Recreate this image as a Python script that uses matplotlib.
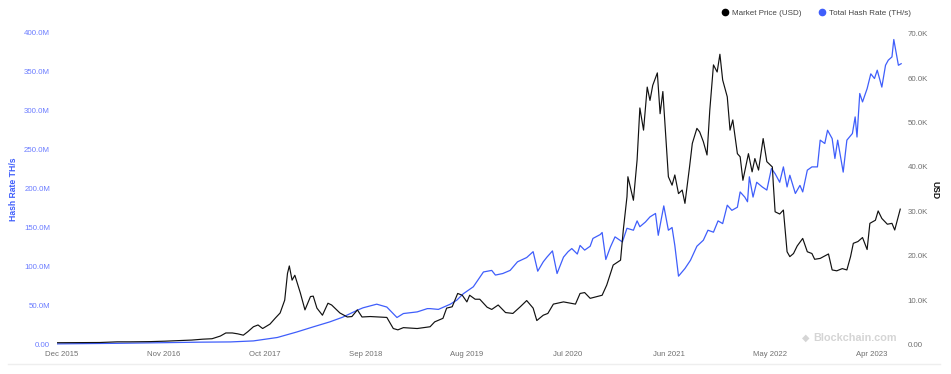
import matplotlib
matplotlib.use('Agg')
import matplotlib.pyplot as plt
from matplotlib.lines import Line2D

# x positions are months after Dec 2015
price_t = [-0.5, 1.4, 4.1, 6.0, 7.4, 9.6, 11.2, 12.8, 14.1, 15.3, 16.3, 17.2, 17.8, 18.5, 19.1, 19.7,
           20.2, 20.8, 21.3, 21.8, 22.6, 23.2, 23.7, 24.2, 24.5, 24.7, 25.0, 25.3, 25.9, 26.4, 27.0,
           27.3, 27.7, 28.3, 28.9, 29.3, 30.2, 31.0, 31.5, 32.1, 32.6, 33.5, 35.3, 36.0, 36.5, 37.1,
           38.6, 40.0, 40.5, 41.4, 41.8, 42.4, 42.7, 43.0, 43.5, 44.0, 44.3, 44.9, 45.4, 46.2, 46.7,
           47.4, 48.2, 49.0, 49.8, 50.5, 51.2, 51.6, 52.3, 52.8, 53.4, 54.5, 55.8, 56.3, 56.8, 57.4,
           58.7, 59.2, 59.9, 60.7, 61.0, 61.4, 61.5, 62.1, 62.5, 62.8, 63.2, 63.6, 63.9, 64.2, 64.7,
           65.0, 65.3, 65.9, 66.3, 66.6, 67.0, 67.4, 67.7, 68.2, 68.5, 69.0, 69.3, 69.7, 70.1, 70.4,
           70.8, 71.2, 71.5, 71.8, 72.3, 72.6, 72.9, 73.4, 73.7, 74.0, 74.6, 75.0, 75.3, 75.7, 76.2,
           76.6, 77.2, 77.3, 77.5, 78.0, 78.4, 78.8, 79.1, 79.5, 79.9, 80.5, 81.0, 81.5, 81.8, 82.4,
           83.3, 83.7, 84.2, 84.8, 85.3, 85.7, 86.0, 86.5, 87.0, 87.5, 87.8, 88.4, 88.7, 89.1, 89.7,
           90.2, 90.5, 91.1]
price_k = [0.40, 0.42, 0.45, 0.6, 0.6, 0.65, 0.75, 0.9, 1.0, 1.2, 1.3, 1.9, 2.6, 2.6, 2.4, 2.1,
           2.9, 4.0, 4.4, 3.6, 4.6, 6.0, 7.1, 10.0, 16.0, 17.7, 14.5, 15.6, 11.6, 7.8, 10.8,
           10.9, 8.2, 6.6, 9.3, 8.9, 7.1, 6.2, 6.3, 7.8, 6.2, 6.3, 6.1, 3.6, 3.3, 3.8,
           3.6, 4.0, 5.1, 5.9, 8.2, 8.5, 10.0, 11.5, 11.1, 9.6, 11.1, 10.2, 10.2, 8.4, 7.9,
           8.9, 7.2, 7.0, 8.5, 9.9, 8.2, 5.4, 6.6, 7.0, 9.1, 9.6, 9.1, 11.5, 11.7, 10.4,
           11.1, 13.4, 17.9, 19.0, 25.8, 33.3, 37.8, 32.5, 41.6, 53.3, 48.3, 58.0, 55.0, 58.4, 61.2,
           52.0, 57.0, 37.8, 35.9, 38.2, 34.0, 34.8, 31.8, 40.0, 45.3, 48.7, 47.9, 45.7, 42.7, 52.8,
           63.0, 61.4, 65.4, 59.6, 55.8, 48.3, 50.6, 43.0, 42.3, 37.0, 43.0, 38.9, 41.9, 39.3, 46.4,
           41.2, 40.0, 36.3, 29.9, 29.4, 30.3, 20.9, 19.8, 20.5, 22.2, 23.9, 20.9, 20.5, 19.2, 19.4,
           20.4, 16.8, 16.6, 17.1, 16.8, 19.8, 22.8, 23.2, 24.1, 21.4, 27.3, 28.0, 30.1, 28.4, 27.1,
           27.3, 25.8, 30.5]

hash_t = [-0.5, 3.0, 6.0, 9.0, 12.0, 15.0, 18.3, 20.8, 23.4, 25.5, 27.3, 29.1, 30.5, 32.1, 32.7,
          34.2, 35.3, 36.4, 37.1, 38.6, 39.7, 40.0, 40.9, 42.2, 42.9, 43.6, 44.7, 45.8, 46.7, 47.1,
          47.9, 48.7, 49.5, 50.5, 51.2, 51.7, 52.3, 52.7, 53.3, 53.8, 54.5, 55.0, 55.4, 56.0, 56.3,
          56.8, 57.4, 57.7, 58.5, 58.7, 59.1, 59.6, 60.1, 60.9, 61.4, 62.1, 62.5, 62.8, 63.4, 63.9,
          64.5, 64.8, 65.1, 65.4, 65.9, 66.3, 66.6, 67.0, 67.7, 68.3, 69.0, 69.7, 70.2, 70.8, 71.3,
          71.8, 72.3, 72.8, 73.4, 73.7, 74.2, 74.5, 74.7, 75.1, 75.5, 76.1, 76.6, 77.1, 77.5, 78.0,
          78.4, 78.8, 79.1, 79.7, 80.2, 80.5, 81.0, 81.5, 82.1, 82.4, 82.9, 83.2, 83.7, 84.0, 84.3,
          84.9, 85.3, 85.9, 86.2, 86.4, 86.7, 87.0, 87.5, 87.9, 88.3, 88.6, 89.1, 89.5, 89.8, 90.2,
          90.4, 90.9, 91.2]
hash_m = [0.8, 1.2, 1.5, 2.0, 2.5, 3.0, 3.3, 4.6, 9.0, 16.0, 22.6, 29.0, 35.0, 44.0, 47.0,
          51.7, 48.0, 34.6, 39.7, 41.8, 46.0, 46.0, 45.0, 51.7, 56.8, 65.0, 74.0, 93.0, 95.0, 89.0,
          91.0, 95.0, 106.0, 111.5, 119.0, 94.0, 106.0, 112.0, 120.0, 91.0, 112.0, 119.0, 123.0, 116.0, 127.0,
          121.0, 126.0, 136.0, 141.0, 143.6, 109.0, 125.0, 138.0, 131.5, 149.0, 146.5, 158.5, 151.0, 157.0, 163.6,
          168.0, 140.0, 159.0, 177.7, 146.5, 150.0, 127.0, 87.6, 97.4, 108.0, 126.0, 133.7, 146.5, 144.0, 158.5,
          155.0, 178.6, 172.0, 176.0, 195.6, 189.0, 183.0, 215.0, 189.0, 208.0, 202.0, 198.0, 225.6, 219.0, 208.0,
          227.7, 202.0, 217.0, 193.6, 204.0, 195.6, 223.5, 227.7, 227.7, 262.0, 257.7, 274.7, 264.0, 238.5, 262.0,
          221.0, 262.0, 270.5, 291.8, 266.0, 321.8, 311.0, 328.0, 347.0, 341.0, 351.7, 330.0, 358.0, 364.5, 368.7,
          391.0, 358.0, 360.0]

tick_months = [0, 11, 22, 33, 44, 55, 66, 77, 88]
tick_labels = ['Dec 2015', 'Nov 2016', 'Oct 2017', 'Sep 2018', 'Aug 2019',
               'Jul 2020', 'Jun 2021', 'May 2022', 'Apr 2023']

hash_ticks = [0, 50, 100, 150, 200, 250, 300, 350, 400]
price_ticks = [0, 10, 20, 30, 40, 50, 60, 70]

BLUE = '#3f5efb'
BLUE_TXT = '#6b7cff'
GREY_TXT = '#707070'

plt.rcParams['font.family'] = ['Liberation Sans Narrow', 'Liberation Sans', 'DejaVu Sans']

fig = plt.figure(figsize=(9.51, 3.74), dpi=100)
ax = fig.add_axes([57 / 951, 29.5 / 374, 846 / 951, 312 / 374])
ax2 = ax.twinx()

ax.plot(hash_t, hash_m, color=BLUE, lw=0.9, zorder=2)
ax2.plot(price_t, price_k, color='#111111', lw=0.85, zorder=3)

ax.set_xlim(-0.55, 91.4)
ax.set_ylim(0, 400)
ax2.set_ylim(0, 70.3)

ax.set_xticks(tick_months)
ax.set_xticklabels(tick_labels)
ax.set_yticks(hash_ticks)
ax.set_yticklabels(['0.00'] + ['%.1fM' % v for v in hash_ticks[1:]])
ax2.set_yticks(price_ticks)
ax2.set_yticklabels(['0.00'] + ['%.1fK' % v for v in price_ticks[1:]])

ax.tick_params(axis='x', length=0, pad=5, labelsize=5.6, labelcolor=GREY_TXT)
ax.tick_params(axis='y', length=0, pad=5, labelsize=5.7, labelcolor=BLUE_TXT)
ax2.tick_params(axis='y', length=0, pad=3.5, labelsize=5.7, labelcolor=GREY_TXT)

for a in (ax, ax2):
    for s in a.spines.values():
        s.set_visible(False)

fig.text(14 / 951, 1 - 189 / 374, 'Hash Rate TH/s', rotation=90, color=BLUE,
         fontsize=6.2, fontweight='bold', ha='center', va='center',
         family=['Liberation Sans', 'DejaVu Sans'])
fig.text(935 / 951, 1 - 190 / 374, 'USD', rotation=270, color='#111111',
         fontsize=6.2, fontweight='bold', ha='center', va='center',
         family=['Liberation Sans', 'DejaVu Sans'])

# legend at top right
handles = [Line2D([], [], ls='none', marker='o', markersize=4.5, color='black'),
           Line2D([], [], ls='none', marker='o', markersize=4.5, color=BLUE)]
fig.legend(handles, ['Market Price (USD)', 'Total Hash Rate (TH/s)'], ncol=2,
           loc='center right', bbox_to_anchor=(918 / 951, 1 - 13 / 374), frameon=False,
           fontsize=5.8, handletextpad=0.35, columnspacing=2.0, handlelength=1.0,
           labelcolor='#444444')

# watermark
fig.text(897 / 951, 1 - 338 / 374, 'Blockchain.com', color='#d5d5d5',
         fontsize=7.8, fontweight='bold', ha='right', va='center',
         family=['Liberation Sans', 'DejaVu Sans'])
fig.text(806 / 951, 1 - 338 / 374, '\u25c6', color='#d5d5d5',
         fontsize=7, ha='center', va='center', family=['DejaVu Sans'])

fig.add_artist(Line2D([8 / 951, 940 / 951], [1 - 364 / 374, 1 - 364 / 374],
                      color='#eeeeee', lw=1))

fig.savefig('out.png', dpi=100)
